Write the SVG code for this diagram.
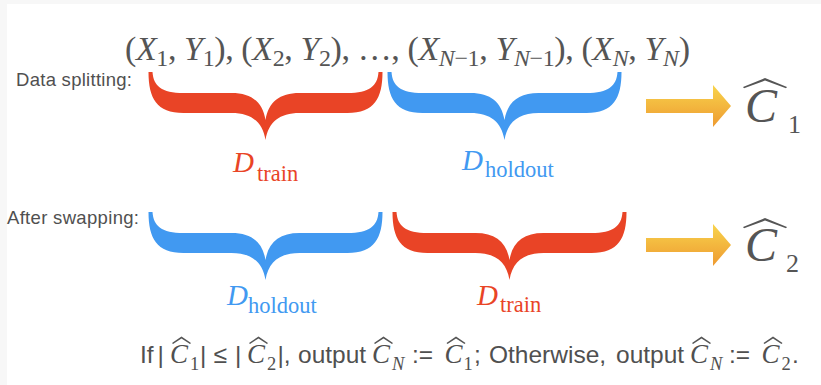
<svg xmlns="http://www.w3.org/2000/svg" xmlns:xlink="http://www.w3.org/1999/xlink" width="821" height="385" viewBox="0 0 821 385">
<style>
.lbl{font-family:"Liberation Sans",Arial,sans-serif;fill:#505050}
.m{font-family:"Liberation Serif","Times New Roman",serif;fill:#555}
.i{font-style:italic}
.red{fill:#e94426}
.blue{fill:#4199f1}
.gray{fill:#555}
.D{font-family:"Liberation Serif","Times New Roman",serif;font-style:italic;font-size:29px}
.dsub{font-family:"Liberation Serif","Times New Roman",serif;font-size:22.5px}
.mc{font-family:"Liberation Serif","Times New Roman",serif;font-style:italic;font-size:27px}
.ms{font-family:"Liberation Serif","Times New Roman",serif;font-size:18.5px}
.bigC{font-size:48px;font-style:italic}
.bigS{font-size:26px}
</style>
<defs>
<path id="brace" d="M-117,0 C-117,26 -109,41 -82,41 L-34,41 C-14,41 -3,50 0,68 C3,50 14,41 34,41 L82,41 C109,41 117,26 117,0 L113,0 C112,14 104,21 82,21 L34,21 C14,21 3,30 0,48 C-3,30 -14,21 -34,21 L-82,21 C-104,21 -112,14 -113,0 Z"/>
<linearGradient id="ag" x1="0" y1="0" x2="0" y2="1">
<stop offset="0" stop-color="#f8d44c"/>
<stop offset="1" stop-color="#ee9a31"/>
</linearGradient>
<path id="arrow" d="M0,-7 L67,-7 L67,-21 L85,0 L67,21 L67,7 L0,7 Z" fill="url(#ag)"/>
<path id="hatL" d="M0,9 L22,0 L44,9 L43,10.2 L22,2.6 L1,10.2 Z"/>
<path id="hatS" d="M1,343 L10.5,336.5 L20,343 L19,344 L10.5,338.4 L2,344 Z"/>
</defs>
<rect width="821" height="385" fill="#f7f7f7"/>
<rect x="7" y="4" width="814" height="381" fill="#fff"/>

<g id="formula">
<text class="m" x="125" y="60" font-size="34" textLength="565">(<tspan class="i">X</tspan><tspan font-size="24" dy="6">1</tspan><tspan dy="-6">, </tspan><tspan class="i">Y</tspan><tspan font-size="24" dy="6">1</tspan><tspan dy="-6">), (</tspan><tspan class="i">X</tspan><tspan font-size="24" dy="6">2</tspan><tspan dy="-6">, </tspan><tspan class="i">Y</tspan><tspan font-size="24" dy="6">2</tspan><tspan dy="-6">), …, (</tspan><tspan class="i">X</tspan><tspan font-size="24" dy="6"><tspan class="i">N</tspan>−1</tspan><tspan dy="-6">, </tspan><tspan class="i">Y</tspan><tspan font-size="24" dy="6"><tspan class="i">N</tspan>−1</tspan><tspan dy="-6">), (</tspan><tspan class="i">X</tspan><tspan font-size="24" dy="6" class="i">N</tspan><tspan dy="-6">, </tspan><tspan class="i">Y</tspan><tspan font-size="24" dy="6" class="i">N</tspan><tspan dy="-6">)</tspan></text>
</g>

<g id="row1">
<text class="lbl" x="16" y="86" font-size="18.5" textLength="116">Data splitting:</text>
<use xlink:href="#brace" href="#brace" class="red" transform="translate(265.5,72)"/>
<use xlink:href="#brace" href="#brace" class="blue" transform="translate(504.5,72)"/>
<text class="red"><tspan class="D" x="233" y="172">D</tspan><tspan class="dsub" x="257" y="181">train</tspan></text>
<text class="blue"><tspan class="D" x="462" y="170">D</tspan><tspan class="dsub" x="485" y="177">holdout</tspan></text>
</g>

<g id="row2">
<text class="lbl" x="7" y="224" font-size="18.5" textLength="132">After swapping:</text>
<use xlink:href="#brace" href="#brace" class="blue" transform="translate(265.5,212)"/>
<use xlink:href="#brace" href="#brace" class="red" transform="translate(509.5,212)"/>
<text class="blue"><tspan class="D" x="227" y="305">D</tspan><tspan class="dsub" x="248" y="313">holdout</tspan></text>
<text class="red"><tspan class="D" x="477" y="305">D</tspan><tspan class="dsub" x="500" y="312">train</tspan></text>
</g>

<g id="connectors">
<use xlink:href="#arrow" href="#arrow" transform="translate(646,106)"/>
<use xlink:href="#arrow" href="#arrow" transform="translate(646,245)"/>
</g>

<g id="c1">
<use xlink:href="#hatL" href="#hatL" class="gray" transform="translate(743,78)"/>
<text class="m"><tspan class="bigC" x="745" y="122">C</tspan><tspan class="bigS" x="788" y="133">1</tspan></text>
</g>

<g id="c2">
<use xlink:href="#hatL" href="#hatL" class="gray" transform="translate(743,218)"/>
<text class="m"><tspan class="bigC" x="745" y="261">C</tspan><tspan class="bigS" x="786" y="272">2</tspan></text>
</g>

<g id="rule">
<text class="lbl" font-size="24.5"><tspan x="140" y="363">If</tspan><tspan x="157.5" y="363">|</tspan><tspan class="mc" x="170" y="363">C</tspan><tspan class="ms" x="190" y="370">1</tspan><tspan x="200" y="363">|</tspan><tspan x="213.5" y="363">≤</tspan><tspan x="235" y="363">|</tspan><tspan class="mc" x="247" y="363">C</tspan><tspan class="ms" x="267" y="370">2</tspan><tspan x="277.5" y="363">|,</tspan><tspan x="298" y="363">output</tspan><tspan class="mc" x="372" y="363">C</tspan><tspan class="ms i" x="392" y="370">N</tspan><tspan x="412" y="363">:=</tspan><tspan class="mc" x="444.5" y="363">C</tspan><tspan class="ms" x="463.5" y="370">1</tspan><tspan x="474" y="363">;</tspan><tspan x="489" y="363">Otherwise,</tspan><tspan x="616" y="363">output</tspan><tspan class="mc" x="690" y="363">C</tspan><tspan class="ms i" x="710" y="370">N</tspan><tspan x="729" y="363">:=</tspan><tspan class="mc" x="761.5" y="363">C</tspan><tspan class="ms" x="781.5" y="370">2</tspan><tspan x="792" y="363">.</tspan></text>
<g class="gray">
<use xlink:href="#hatS" href="#hatS" transform="translate(171,0)"/>
<use xlink:href="#hatS" href="#hatS" transform="translate(248,0)"/>
<use xlink:href="#hatS" href="#hatS" transform="translate(373,0)"/>
<use xlink:href="#hatS" href="#hatS" transform="translate(445.5,0)"/>
<use xlink:href="#hatS" href="#hatS" transform="translate(691,0)"/>
<use xlink:href="#hatS" href="#hatS" transform="translate(762.5,0)"/>
</g>
</g>
</svg>
